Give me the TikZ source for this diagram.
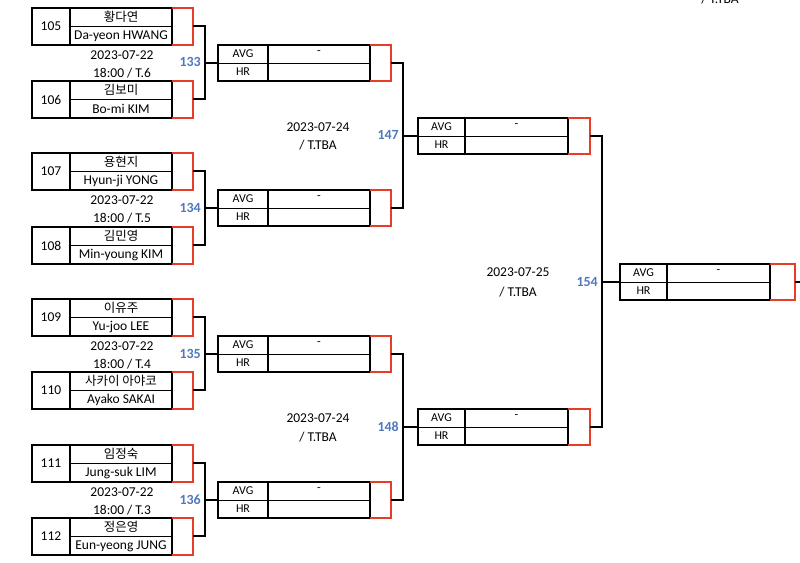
\documentclass[tikz,border=0pt]{standalone}
\usepackage{fontspec}
\setmainfont{Carlito}
\newfontfamily\kor{Noto Sans CJK KR}
\begin{document}
\begin{tikzpicture}[x=1pt,y=-1pt,
  box/.style={line width=1.3pt},
  thin/.style={line width=0.5pt},
  red/.style={draw={rgb,255:red,230;green,60;blue,40},line width=1.3pt},
  conn/.style={line width=1.3pt},
  lbl/.style={font=\fontsize{13.5}{14}\selectfont,inner sep=0pt},
  sm/.style={font=\fontsize{12}{13}\selectfont,inner sep=0pt},
  num/.style={font=\fontsize{14}{14}\selectfont\bfseries,text={rgb,255:red,80;green,120;blue,190},inner sep=0pt}]
\useasboundingbox (0,0) rectangle (800,562);
\newcommand\plbox[5]{%
  \draw[thin] (70,#1+18) -- (172,#1+18);
  \draw[box] (32,#1) rectangle (172,#1+37);
  \draw[box] (70,#1) -- (70,#1+37);
  \draw[red] (172,#1) -- (193,#1) -- (193,#1+37) -- (172,#1+37);
  \node[lbl] at (51,#1+18.5) {#2};
  \node[lbl,font=\kor\fontsize{12.5}{13}\selectfont] at (121,#1+9) {#3};
  \node[lbl] at (121,#1+28) {#4};
  \coordinate (#5) at (193,#1+18);}
\newcommand\matchbox[6]{%
  \draw[thin] (#1,#2+18) -- (#4,#2+18);
  \draw[box] (#1,#2) rectangle (#4,#2+36);
  \draw[box] (#1+#3,#2) -- (#1+#3,#2+36);
  \draw[red] (#4,#2) -- (#5,#2) -- (#5,#2+36) -- (#4,#2+36);
  \node[sm] at (#1+#3/2,#2+9) {AVG};
  \node[sm] at (#1+#3/2,#2+27) {HR};
  \node[sm] at ({(#1+#3+#4)/2},#2+8) {-};
  \coordinate (#6in) at (#1,#2+18);
  \coordinate (#6out) at (#5,#2+18);}
\plbox{8}{105}{황다연}{Da-yeon HWANG}{p105}
\plbox{81}{106}{김보미}{Bo-mi KIM}{p106}
\plbox{153}{107}{용현지}{Hyun-ji YONG}{p107}
\plbox{227}{108}{김민영}{Min-young KIM}{p108}
\plbox{299}{109}{이유주}{Yu-joo LEE}{p109}
\plbox{372}{110}{사카이 아야코}{Ayako SAKAI}{p110}
\plbox{445}{111}{임정숙}{Jung-suk LIM}{p111}
\plbox{518}{112}{정은영}{Eun-yeong JUNG}{p112}
\matchbox{218}{45}{50}{370}{391}{m133}
\matchbox{218}{190}{50}{370}{391}{m134}
\matchbox{218}{336}{50}{370}{391}{m135}
\matchbox{218}{482}{50}{370}{391}{m136}
\matchbox{418}{118}{47}{568}{590}{m147}
\matchbox{418}{409}{47}{568}{590}{m148}
\matchbox{620}{264}{47}{770}{795}{m154}
\foreach \y/\t in {55/6,200/5,346/4,492/3}{
  \node[lbl] at (122,\y) {2023-07-22};
  \node[lbl] at (122,\y+18) {18:00 / T.\t};}
\node[lbl] at (318,127) {2023-07-24};
\node[lbl] at (318,145) {/ T.TBA};
\node[lbl] at (318,418) {2023-07-24};
\node[lbl] at (318,437) {/ T.TBA};
\node[lbl] at (518,272) {2023-07-25};
\node[lbl] at (518,292) {/ T.TBA};
\node[lbl] at (720,-1) {/ T.TBA};
\coordinate (j133) at (205,63);
\coordinate (j134) at (205,208);
\coordinate (j135) at (205,354);
\coordinate (j136) at (205,500);
\coordinate (j147) at (403,136);
\coordinate (j148) at (403,427);
\coordinate (j154) at (602,282);
\coordinate (jend) at (800,282);
\node[num,anchor=east] at (201,62) {133};
\node[num,anchor=east] at (201,208) {134};
\node[num,anchor=east] at (201,354) {135};
\node[num,anchor=east] at (201,500) {136};
\node[num,anchor=east] at (399,135) {147};
\node[num,anchor=east] at (399,427) {148};
\node[num,anchor=east] at (598,282) {154};
\draw[conn] (p105) -| (j133) |- (p106); \draw[conn] (j133) -- (m133in);
\draw[conn] (p107) -| (j134) |- (p108); \draw[conn] (j134) -- (m134in);
\draw[conn] (p109) -| (j135) |- (p110); \draw[conn] (j135) -- (m135in);
\draw[conn] (p111) -| (j136) |- (p112); \draw[conn] (j136) -- (m136in);
\draw[conn] (m133out) -| (j147) |- (m134out); \draw[conn] (j147) -- (m147in);
\draw[conn] (m135out) -| (j148) |- (m136out); \draw[conn] (j148) -- (m148in);
\draw[conn] (m147out) -| (j154) |- (m148out); \draw[conn] (j154) -- (m154in);
\draw[conn] (m154out) -- (jend);
\end{tikzpicture}
\end{document}
